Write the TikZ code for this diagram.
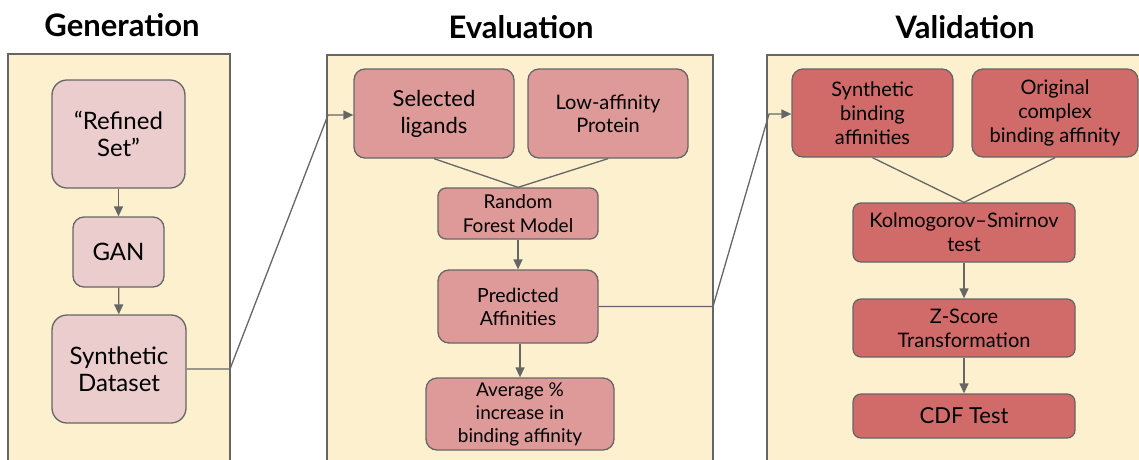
\documentclass[tikz,border=0pt]{standalone}
\usepackage{fontspec}
\setmainfont{Lato}
\usetikzlibrary{arrows.meta}
\definecolor{panelfill}{HTML}{FCF0CE}
\definecolor{edgegray}{HTML}{666666}
\definecolor{genfill}{HTML}{EACDCC}
\definecolor{evalfill}{HTML}{DD9A99}
\definecolor{valfill}{HTML}{D06B69}
\tikzset{
  panel/.style={draw=edgegray, line width=1.3pt, fill=panelfill},
  title/.style={font=\fontsize{31}{34}\selectfont\bfseries, anchor=center},
  box/.style={draw=edgegray, line width=1.3pt, rounded corners=11pt, align=center,
              inner sep=0pt, text=black},
  genbox/.style={box, fill=genfill, rounded corners=15pt,
                 font=\fontsize{24}{27}\selectfont},
  evalbox/.style={box, fill=evalfill},
  valbox/.style={box, fill=valfill},
  link/.style={draw=edgegray, line width=1.3pt},
  flow/.style={link, -{Triangle[length=10pt,width=9pt]}},
}
\begin{document}
\begin{tikzpicture}[x=1pt,y=-1pt]
\useasboundingbox (0,0) rectangle (1139,459);
\fill[white] (0,0) rectangle (1139,459);

% section titles
\node[title] (tgen) at (122,25) {Generation};
\node[title] (teval) at (521,27) {Evaluation};
\node[title] (tval) at (965,27) {Validation};

% panels
\draw[panel] (8,54) rectangle (230,470);
\draw[panel] (327,55) rectangle (713,470);
\draw[panel] (767,55) rectangle (1160,470);

% generation
\node[genbox, minimum width=133pt, minimum height=108pt] (refined) at (118.5,134) {``Refined\\Set''};
\node[genbox, rounded corners=11pt, minimum width=91pt, minimum height=70pt] (gan) at (118.5,252) {GAN};
\node[genbox, minimum width=134pt, minimum height=108pt] (synth) at (119,369) {Synthetic\\Dataset};
\draw[flow] (refined) -- (gan);
\draw[flow] (gan) -- (synth);

% evaluation
\node[evalbox, font=\fontsize{22}{27}\selectfont, minimum width=160pt, minimum height=89pt] (lig) at (434,113.5) {Selected\\ligands};
\node[evalbox, font=\fontsize{20}{23}\selectfont, minimum width=160pt, minimum height=89pt] (prot) at (608,113.5) {Low-affinity\\Protein};
\node[evalbox, rounded corners=8pt, font=\fontsize{19}{24}\selectfont, minimum width=160pt, minimum height=51pt] (rf) at (518,213.5) {Random\\Forest Model};
\node[evalbox, font=\fontsize{19.5}{23}\selectfont, minimum width=160pt, minimum height=73pt] (pred) at (518,306.5) {Predicted\\Affinities};
\node[evalbox, font=\fontsize{19}{23}\selectfont, minimum width=188pt, minimum height=72pt] (avg) at (520,414) {Average \%\\increase in\\binding affinity};
\draw[link] (lig.south) -- (rf.north);
\draw[link] (prot.south) -- (rf.north);
\draw[flow] (rf) -- (pred);
\draw[flow] (pred.south -| avg.north) -- (avg.north);

% validation
\node[valbox, font=\fontsize{20}{24}\selectfont, minimum width=161pt, minimum height=88pt] (sba) at (872.5,113) {Synthetic\\binding\\affinities};
\node[valbox, font=\fontsize{20}{24}\selectfont, minimum width=166pt, minimum height=88pt] (oba) at (1055,113) {Original\\complex\\binding affinity};
\node[valbox, rounded corners=8pt, font=\fontsize{20}{24}\selectfont, minimum width=222pt, minimum height=59pt] (ks) at (964,232.5) {Kolmogorov--Smirnov\\test};
\node[valbox, rounded corners=8pt, font=\fontsize{20}{24}\selectfont, minimum width=222pt, minimum height=58pt] (z) at (964,328) {Z-Score\\Transformation};
\node[valbox, rounded corners=8pt, font=\fontsize{22}{24}\selectfont, minimum width=222pt, minimum height=44pt] (cdf) at (964,416) {CDF Test};
\draw[link] (sba.south) -- (ks.north);
\draw[link] (oba.south) -- (ks.north);
\draw[flow] (ks) -- (z);
\draw[flow] (z) -- (cdf);

% hand-offs between stages
\coordinate (g1) at (230,369);
\coordinate (g2) at (328,115);
\draw[flow] (synth.east) -- (g1) -- (g2) -- (lig.west |- g2);
\coordinate (e1) at (713,306.5);
\coordinate (e2) at (769,114);
\draw[flow] (pred.east) -- (e1) -- (e2) -- (sba.west |- e2);
\end{tikzpicture}
\end{document}
